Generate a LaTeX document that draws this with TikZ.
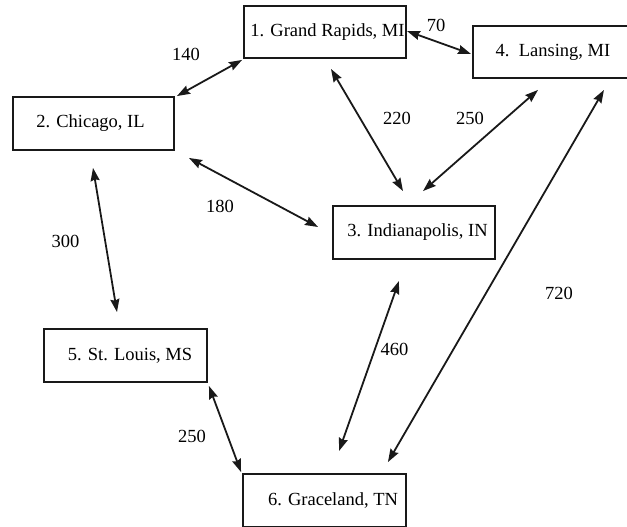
\documentclass[tikz,border=0pt]{standalone}
\usepackage{fontspec}
\setmainfont{Liberation Serif}
\usetikzlibrary{arrows.meta}
\begin{document}
\begin{tikzpicture}[x=1pt,y=-1pt,
  city/.style={draw=black!90, line width=1.9pt, rectangle, inner sep=0pt,
    font=\fontsize{18.5}{22}\selectfont},
  road/.style={line width=1.8pt, draw=black!90,
    {Stealth[length=13pt,width=9pt,inset=1.5pt]}-{Stealth[length=13pt,width=9pt,inset=1.5pt]}},
  dist/.style={font=\fontsize{18.5}{22}\selectfont, inner sep=0pt}]
\useasboundingbox (0,0) rectangle (627,527);

% cities (the text is set a little off centre in some boxes)
\node[city, minimum width=162pt, minimum height=52pt] (n1) at (325,32)
  {\hspace*{5pt}1. Grand Rapids, MI};
\node[city, minimum width=161pt, minimum height=53pt] (n2) at (93.5,123.5)
  {2. Chicago, IL\hspace*{6pt}};
\node[city, minimum width=162pt, minimum height=53pt] (n3) at (414,232.5)
  {\hspace*{7pt}3. Indianapolis, IN};
\node[city, minimum width=160pt, minimum height=52pt] (n4) at (553,52)
  {4.\ \ Lansing, MI};
\node[city, minimum width=163pt, minimum height=53pt] (n5) at (125.5,355.5)
  {\hspace*{9pt}5. St. Louis, MS};
\node[city, minimum width=163pt, minimum height=53pt] (n6) at (324.5,500.5)
  {\hspace*{17pt}6. Graceland, TN};

% roads
\draw[road] ([shift={(2,0)}]n2.north east) -- ([shift={(-1,1)}]n1.south west);
\draw[road] ([shift={(0,-1)}]n1.east) -- ([shift={(-1,2)}]n4.west);
\draw[road] ([shift={(6,10)}]n1.south) -- ([shift={(-11,-14)}]n3.north);
\draw[road] ([shift={(9,-14)}]n3.north) -- ([shift={(-15,11)}]n4.south);
\draw[road] ([shift={(-30,11)}]n4.south east) -- ([shift={(-19,-11)}]n6.north east);
\draw[road] ([shift={(-15,21)}]n3.south) -- ([shift={(14.5,-22)}]n6.north);
\draw[road] ([shift={(14,7)}]n2.south east) -- ([shift={(-14,-5.5)}]n3.west);
\draw[road] ([shift={(-0.5,17)}]n2.south) -- ([shift={(-8.5,-16)}]n5.north);
\draw[road] ([shift={(1,3)}]n5.south east) -- ([shift={(-1,-1)}]n6.north west);

% distances
\node[dist] (d12) at (186,54) {140};
\node[dist] (d14) at (436,25) {70};
\node[dist] (d13) at (397,118) {220};
\node[dist] (d34) at (470,118) {250};
\node[dist] (d46) at (559,293) {720};
\node[dist] (d36) at (394.5,349) {460};
\node[dist] (d23) at (220,206.5) {180};
\node[dist] (d25) at (65.5,241) {300};
\node[dist] (d56) at (192,436) {250};
\end{tikzpicture}
\end{document}
